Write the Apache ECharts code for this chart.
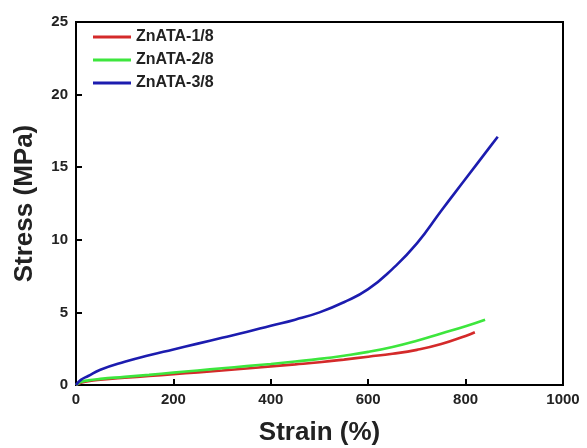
<!DOCTYPE html>
<html>
<head>
<meta charset="utf-8">
<script src="https://cdn.jsdelivr.net/npm/echarts@6/dist/echarts.min.js"></script>
<style>
  html, body { margin: 0; padding: 0; background: #fff; }
  #chart { width: 587px; height: 448px; }
</style>
</head>
<body>
<div id="chart"></div>
<script>
// Tensile stress–strain curves for the three ZnATA samples
const seriesNames = ['ZnATA-1/8', 'ZnATA-2/8', 'ZnATA-3/8'];
const seriesColors = ['#d42a2a', '#3de63d', '#1c1caf'];

// [strain %, stress MPa]
const znata18 = [[0,0],[10,0.15],[25,0.26],[50,0.36],[100,0.5],[150,0.62],[200,0.74],[250,0.87],[300,1.0],[350,1.14],[400,1.28],[450,1.42],[500,1.57],[550,1.75],[600,1.95],[650,2.15],[700,2.42],[750,2.82],[800,3.38],[819,3.63]];
const znata28 = [[0,0],[10,0.2],[25,0.32],[50,0.42],[100,0.56],[150,0.7],[200,0.85],[250,1.0],[300,1.15],[350,1.3],[400,1.45],[450,1.62],[500,1.8],[550,2.02],[600,2.28],[650,2.62],[700,3.05],[750,3.55],[800,4.05],[840,4.5]];
const znata38 = [[0,0],[10,0.35],[25,0.62],[50,1.05],[100,1.6],[150,2.05],[200,2.45],[250,2.85],[300,3.25],[350,3.65],[400,4.08],[450,4.5],[500,5.0],[550,5.7],[600,6.6],[650,8.0],[700,9.75],[750,12.0],[800,14.2],[850,16.4],[866,17.1]];

const xTicks = [0, 1000, 200];   // min, max, interval
const yTicks = [0, 25, 5];

const chart = echarts.init(document.getElementById('chart'));
const font = 'Liberation Sans, Arial, sans-serif';

chart.setOption({
  animation: false,
  backgroundColor: '#fff',
  grid: {
    left: 76, right: 24, top: 22, bottom: 63,
    containLabel: false,
    outerBoundsMode: 'none',
    show: true, borderColor: '#000', borderWidth: 2, backgroundColor: 'transparent'
  },
  legend: {
    orient: 'vertical',
    left: 88, top: 24,
    itemWidth: 38, itemHeight: 3, itemGap: 7,
    icon: 'rect',
    textStyle: { fontFamily: font, fontWeight: 'bold', fontSize: 16, color: '#222' },
    data: seriesNames
  },
  xAxis: {
    type: 'value',
    min: xTicks[0], max: xTicks[1], interval: xTicks[2],
    name: 'Strain (%)', nameLocation: 'middle', nameGap: 35,
    nameTextStyle: { fontFamily: font, fontWeight: 'bold', fontSize: 26, color: '#222' },
    axisLine: { show: true, lineStyle: { color: '#000', width: 2 } },
    axisTick: { show: true, inside: true, length: 6, lineStyle: { color: '#000', width: 2 } },
    axisLabel: { fontFamily: font, fontWeight: 'bold', fontSize: 15, color: '#222', margin: 7,
                 formatter: v => String(v) },
    splitLine: { show: false }
  },
  yAxis: {
    type: 'value',
    min: yTicks[0], max: yTicks[1], interval: yTicks[2],
    name: 'Stress (MPa)', nameLocation: 'middle', nameGap: 38,
    nameTextStyle: { fontFamily: font, fontWeight: 'bold', fontSize: 26, color: '#222' },
    axisLine: { show: true, lineStyle: { color: '#000', width: 2 } },
    axisTick: { show: true, inside: true, length: 6, lineStyle: { color: '#000', width: 2 } },
    axisLabel: { fontFamily: font, fontWeight: 'bold', fontSize: 15, color: '#222', margin: 8 },
    splitLine: { show: false }
  },
  series: [znata18, znata28, znata38].map((d, i) => ({
    name: seriesNames[i],
    type: 'line',
    data: d,
    smooth: 0.5,
    showSymbol: false,
    symbol: 'none',
    lineStyle: { color: seriesColors[i], width: 2.6 },
    itemStyle: { color: seriesColors[i] }
  }))
});
</script>
</body>
</html>
